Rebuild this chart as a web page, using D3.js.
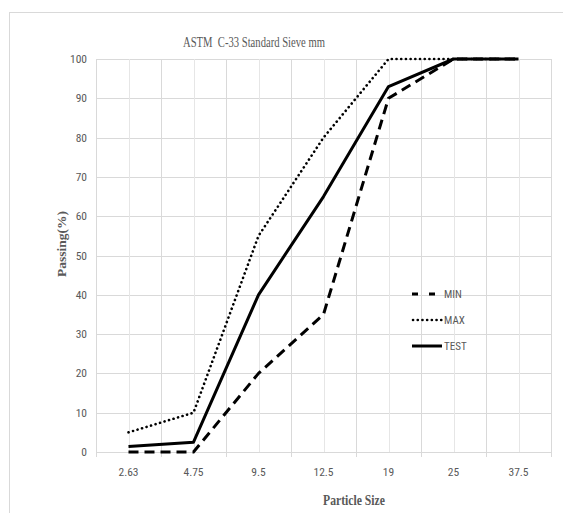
<!DOCTYPE html>
<html><head><meta charset="utf-8">
<script src="https://cdn.jsdelivr.net/npm/d3@7"></script>
<style>
body{margin:0;background:#fff;}
text{fill:#595959;}
</style></head>
<body>
<svg id="chart" width="563" height="513"></svg>
<script>
const categories = ["2.63","4.75","9.5","12.5","19","25","37.5"];
const minValues  = [0, 0, 20, 35, 90, 100, 100];
const maxValues  = [5, 10, 55, 80, 100, 100, 100];
const testValues = [1.4, 2.5, 40, 65, 93, 100, 100];
const yTicks = [0,10,20,30,40,50,60,70,80,90,100];
const seriesNames = ["MIN","MAX","TEST"];

const svg = d3.select("#chart");
const plot = {left:96, right:551, top:59, bottom:452};
const sans = "'Liberation Sans Narrow','Arial Narrow','Roboto Condensed','Liberation Sans',sans-serif";
const serif = "'Liberation Serif','Times New Roman',serif";

svg.append("rect").attr("x",9.5).attr("y",12.5).attr("width",700).attr("height",700)
  .attr("fill","none").attr("stroke","#d9d9d9").attr("stroke-width",1);

const x = d3.scaleBand().domain(categories).range([plot.left, plot.right]).padding(0);
const y = d3.scaleLinear().domain([0,100]).range([plot.bottom, plot.top]);
const cx = d => x(d) + x.bandwidth()/2;

const grid = svg.append("g");
grid.selectAll("line.h").data(yTicks).join("line")
  .attr("x1",plot.left).attr("x2",plot.right)
  .attr("y1",d=>Math.round(y(d))+0.5).attr("y2",d=>Math.round(y(d))+0.5)
  .attr("stroke","#d9d9d9").attr("stroke-width",1);
const bounds = categories.map(c=>x(c)).concat([plot.right]);
grid.selectAll("line.vM").data(bounds).join("line")
  .attr("x1",d=>Math.round(d)+0.5).attr("x2",d=>Math.round(d)+0.5)
  .attr("y1",plot.top).attr("y2",plot.bottom+5)
  .attr("stroke","#d9d9d9").attr("stroke-width",1);
grid.selectAll("line.vm").data(categories).join("line")
  .attr("x1",d=>Math.round(cx(d))+0.5).attr("x2",d=>Math.round(cx(d))+0.5)
  .attr("y1",plot.top).attr("y2",plot.bottom)
  .attr("stroke","#e6e6e6").attr("stroke-width",1);

svg.append("g").selectAll("text").data(yTicks).join("text")
  .attr("x",87).attr("y",d=>y(d)+4)
  .attr("text-anchor","end").attr("font-family",sans).attr("font-size",11.5)
  .text(d=>d);
svg.append("g").selectAll("text").data(categories).join("text")
  .attr("x",d=>cx(d)).attr("y",476)
  .attr("text-anchor","middle").attr("font-family",sans).attr("font-size",11.5)
  .text(d=>d);

svg.append("text").attr("x",254).attr("y",47).attr("text-anchor","middle")
  .style("white-space","pre")
  .attr("font-family",serif).attr("font-size",14).attr("textLength",142).attr("lengthAdjust","spacingAndGlyphs")
  .text("ASTM\u00A0\u00A0C-33 Standard Sieve mm");
svg.append("text").attr("x",354).attr("y",505).attr("text-anchor","middle")
  .attr("font-family",serif).attr("font-size",14).attr("font-weight","bold")
  .attr("textLength",62).attr("lengthAdjust","spacingAndGlyphs")
  .text("Particle Size");
svg.append("text").attr("transform","translate(66,244) rotate(-90)").attr("text-anchor","middle")
  .attr("font-family",serif).attr("font-size",13.5).attr("font-weight","bold")
  .attr("textLength",66).attr("lengthAdjust","spacingAndGlyphs")
  .text("Passing(%)");

const styles = {
  MIN:{dash:"10,6", width:3, cap:"butt"},
  MAX:{dash:"0.1,4.6", width:2.6, cap:"round"},
  TEST:{dash:null, width:3, cap:"butt"}
};
const seriesData = {MIN:minValues, MAX:maxValues, TEST:testValues};
const line = d3.line().x(d=>cx(d.c)).y(d=>y(d.v));
seriesNames.forEach(name=>{
  const st = styles[name];
  const pts = categories.map((c,i)=>({c, v:seriesData[name][i]}));
  svg.append("path").datum(pts).attr("d",line)
    .attr("fill","none").attr("stroke","#000").attr("stroke-width",st.width)
    .attr("stroke-linecap",st.cap).attr("stroke-linejoin","round")
    .attr("stroke-dasharray",st.dash);
});

const lg = svg.append("g");
const legY = [294, 320, 346];
seriesNames.forEach((name,i)=>{
  const st = styles[name];
  lg.append("line").attr("x1",name==="MAX"?413:412).attr("x2",442).attr("y1",legY[i]).attr("y2",legY[i])
    .attr("stroke","#000").attr("stroke-width",st.width).attr("stroke-linecap",st.cap)
    .attr("stroke-dasharray",name==="MIN"?"6,11":st.dash);
  lg.append("text").attr("x",444).attr("y",legY[i]+4).attr("font-family",sans).attr("font-size",11)
    .text(name);
});
</script>
</body></html>
